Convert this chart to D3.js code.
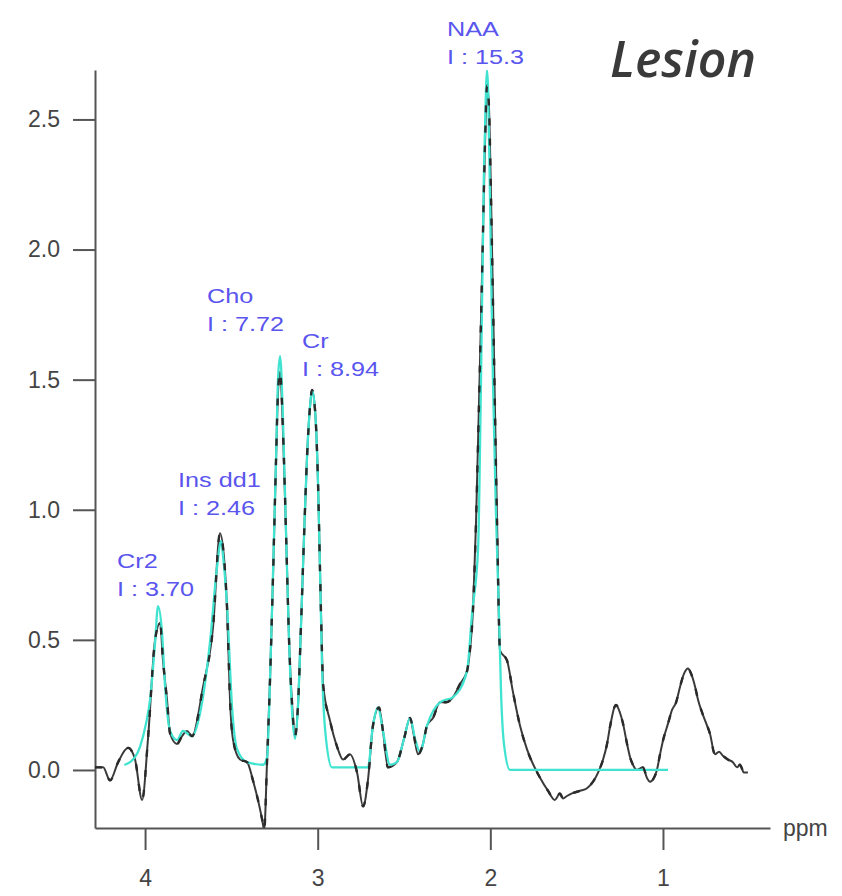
<!DOCTYPE html>
<html>
<head>
<meta charset="utf-8">
<script src="https://cdn.jsdelivr.net/npm/d3@7/dist/d3.min.js"></script>
<style>
  html, body { margin: 0; padding: 0; background: #fff; }
  svg { display: block; }
</style>
</head>
<body>
<svg id="chart" width="842" height="896"></svg>
<script>
// ---- data ----
const yTicks = [0.0, 0.5, 1.0, 1.5, 2.0, 2.5];
const xTicks = [4, 3, 2, 1];
const xAxisTitle = "ppm";
const panelTitle = "Lesion";

// measured spectrum (black)
const specPpm = [4.29,4.243,4.203,4.156,4.098,4.058,4.017,3.983,3.942,3.913,3.896,3.873,3.855,3.815,3.786,3.757,3.728,3.664,3.606,3.566,3.542,3.525,3.508,3.49,3.45,3.409,3.375,3.346,3.322,3.31,3.293,3.276,3.259,3.241,3.230,3.218,3.201,3.183,3.166,3.148,3.131,3.114,3.097,3.079,3.062,3.044,3.033,3.015,2.998,2.986,2.975,2.969,2.929,2.888,2.853,2.813,2.772,2.737,2.709,2.680,2.645,2.622,2.593,2.541,2.5,2.465,2.442,2.419,2.39,2.367,2.332,2.292,2.257,2.216,2.176,2.135,2.118,2.100,2.083,2.066,2.048,2.031,2.019,2.008,1.996,1.979,1.961,1.944,1.903,1.869,1.828,1.788,1.712,1.666,1.626,1.597,1.579,1.556,1.527,1.481,1.44,1.405,1.376,1.347,1.324,1.307,1.272,1.249,1.232,1.208,1.191,1.174,1.151,1.116,1.093,1.075,1.052,1.035,1.017,0.999,0.970,0.948,0.924,0.901,0.878,0.855,0.837,0.814,0.797,0.773,0.75,0.728,0.699,0.675,0.653,0.624,0.595,0.571,0.554,0.531,0.508];
const specVal = [0.01,0.01,-0.04,0.03,0.085,0.04,-0.115,0.12,0.5,0.565,0.42,0.27,0.14,0.10,0.13,0.15,0.13,0.32,0.55,0.91,0.81,0.62,0.27,0.115,0.04,0.03,-0.04,-0.115,-0.19,-0.23,0.04,0.35,0.74,1.2,1.45,1.53,1.3,0.9,0.5,0.25,0.13,0.25,0.55,0.9,1.2,1.4,1.46,1.38,1.1,0.75,0.45,0.33,0.19,0.09,0.04,0.06,-0.01,-0.14,-0.04,0.17,0.24,0.15,0.01,0.03,0.12,0.20,0.13,0.06,0.1,0.17,0.2,0.26,0.26,0.28,0.33,0.38,0.46,0.62,0.95,1.4,1.9,2.4,2.63,2.55,2.2,1.6,0.95,0.46,0.42,0.30,0.17,0.08,-0.03,-0.08,-0.115,-0.09,-0.11,-0.10,-0.09,-0.08,-0.07,-0.045,-0.01,0.04,0.1,0.165,0.25,0.22,0.18,0.1,0.05,0.02,0.0,0.01,-0.03,-0.045,-0.03,0.0,0.06,0.115,0.18,0.23,0.26,0.32,0.37,0.39,0.37,0.32,0.27,0.22,0.18,0.14,0.06,0.07,0.055,0.04,0.03,0.01,0.02,-0.01,-0.01];

// fitted spectrum (cyan)
const fitPpm = [4.12,4.087,4.029,3.994,3.971,3.942,3.925,3.902,3.884,3.855,3.815,3.780,3.728,3.681,3.624,3.583,3.560,3.548,3.525,3.496,3.467,3.409,3.317,3.293,3.276,3.259,3.241,3.230,3.218,3.201,3.183,3.166,3.148,3.131,3.114,3.097,3.079,3.062,3.044,3.033,3.015,2.998,2.986,2.975,2.952,2.917,2.709,2.680,2.651,2.622,2.581,2.541,2.5,2.465,2.436,2.407,2.367,2.292,2.216,2.135,2.106,2.071,2.054,2.037,2.025,2.019,2.013,2.002,1.985,1.968,1.950,1.938,1.921,1.886,0.971];
const fitVal = [0.02,0.03,0.09,0.18,0.27,0.49,0.63,0.53,0.32,0.15,0.115,0.15,0.13,0.22,0.49,0.78,0.88,0.82,0.63,0.24,0.08,0.03,0.02,0.05,0.35,0.75,1.2,1.5,1.59,1.35,0.9,0.5,0.22,0.12,0.25,0.55,0.9,1.2,1.4,1.46,1.38,1.1,0.75,0.4,0.12,0.01,0.01,0.17,0.24,0.15,0.02,0.03,0.12,0.20,0.12,0.07,0.17,0.26,0.28,0.38,0.6,0.85,1.5,2.3,2.62,2.69,2.62,2.2,1.5,1.0,0.6,0.3,0.1,0.0,0.0];

// peak annotations
const peakNames = ["Cr2", "Ins dd1", "Cho", "Cr", "NAA"];
const peakInts  = ["3.70", "2.46", "7.72", "8.94", "15.3"];
const peakLabelPpm = [4.162, 3.809, 3.641, 3.091, 2.251];
const peakLabelVal = [0.777, 1.088, 1.796, 1.623, 2.819];

// ---- layout ----
const svg = d3.select("#chart");
const margin = {left: 95, right: 72, top: 70, bottom: 68};
const W = 842, H = 896;
const x = d3.scaleLinear().domain([4.29, 0.38]).range([margin.left, W - margin.right]);
const y = d3.scaleLinear().domain([-0.223, 2.69]).range([H - margin.bottom, margin.top]);

svg.append("defs").append("clipPath").attr("id", "plotclip")
  .append("rect")
  .attr("x", x.range()[0]).attr("y", y.range()[1])
  .attr("width", x.range()[1] - x.range()[0])
  .attr("height", y.range()[0] - y.range()[1]);

const axisColor = "#555";
const tickFont = "'Liberation Sans', Arial, sans-serif";

// y axis
const gy = svg.append("g")
  .attr("transform", `translate(${x.range()[0]},0)`)
  .call(d3.axisLeft(y).tickValues(yTicks).tickFormat(d3.format(".1f"))
        .tickSizeInner(22).tickSizeOuter(0).tickPadding(13));
gy.select(".domain").attr("stroke", axisColor).attr("stroke-width", 2);
gy.selectAll(".tick line").attr("stroke", axisColor).attr("stroke-width", 2);
gy.selectAll(".tick text").attr("fill", "#444").style("font-family", tickFont).style("font-size", "23px");

// x axis
const gx = svg.append("g")
  .attr("transform", `translate(0,${y.range()[0]})`)
  .call(d3.axisBottom(x).tickValues(xTicks).tickFormat(d3.format("d"))
        .tickSizeInner(22).tickSizeOuter(0).tickPadding(20));
gx.select(".domain").attr("stroke", axisColor).attr("stroke-width", 2);
gx.selectAll(".tick line").attr("stroke", axisColor).attr("stroke-width", 2);
gx.selectAll(".tick text").attr("fill", "#444").style("font-family", tickFont).style("font-size", "23px");

svg.append("text")
  .attr("x", x.range()[1] + 13).attr("y", y.range()[0] + 8)
  .attr("fill", "#444").style("font-family", tickFont).style("font-size", "23px")
  .text(xAxisTitle);

// lines
const spec = specPpm.map((p, i) => ({p, v: specVal[i]}));
const fit = fitPpm.map((p, i) => ({p, v: fitVal[i]}));
const line = d3.line().x(d => x(d.p)).y(d => y(d.v)).curve(d3.curveMonotoneX);

const plot = svg.append("g").attr("clip-path", "url(#plotclip)");
plot.append("path").datum(spec).attr("d", line)
  .attr("fill", "none").attr("stroke", "#3a3a3a").attr("stroke-width", 2).attr("stroke-linejoin", "round");
plot.append("path").datum(fit).attr("d", line)
  .attr("fill", "none").attr("stroke", "#3fe3d0").attr("stroke-width", 2.3).attr("stroke-linejoin", "round");
plot.append("path").datum(spec).attr("d", line)
  .attr("fill", "none").attr("stroke", "#2a2a2a").attr("stroke-width", 2.4)
  .attr("stroke-dasharray", "7,13").attr("stroke-linejoin", "round");

// peak labels
const labelColor = "#5a55ee";
const lab = svg.append("g").style("font-family", tickFont).style("font-size", "21px").attr("fill", labelColor);
peakNames.forEach((n, i) => {
  const lx = x(peakLabelPpm[i]), ly = y(peakLabelVal[i]);
  lab.append("text").attr("transform", `translate(${lx},${ly}) scale(1.2,1)`).text(n);
  lab.append("text").attr("transform", `translate(${lx},${ly + 28}) scale(1.2,1)`).text("I : " + peakInts[i]);
});

// title
svg.append("text")
  .attr("x", 610).attr("y", 77)
  .attr("fill", "#3a3a3a")
  .style("font-family", "'Open Sans', sans-serif")
  .style("font-style", "italic").style("font-weight", 600).style("font-size", "50px")
  .text(panelTitle);
</script>
</body>
</html>
